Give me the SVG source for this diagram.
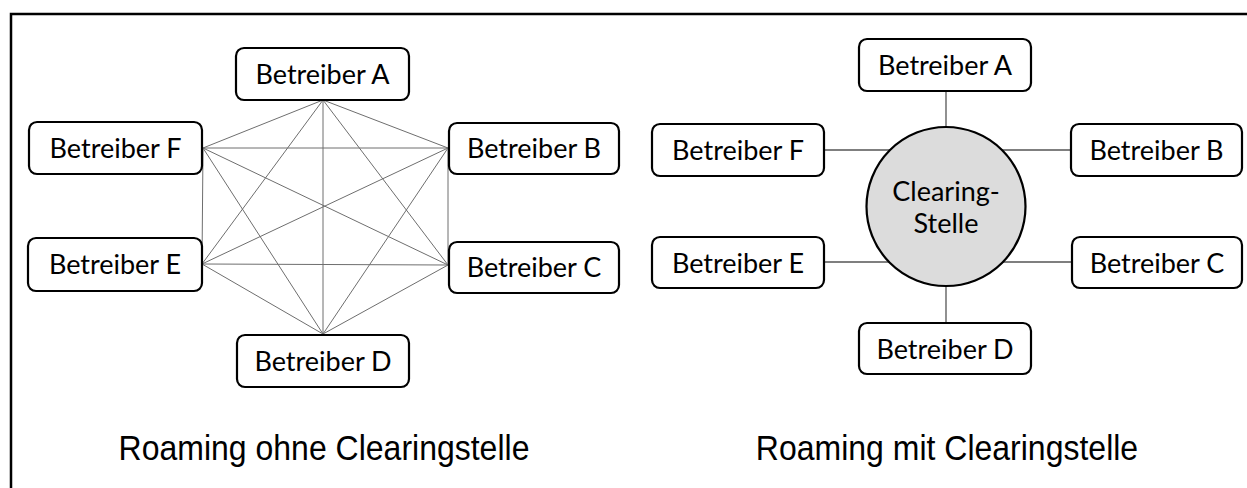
<svg xmlns="http://www.w3.org/2000/svg" width="1247" height="488" viewBox="0 0 1247 488">
<style>
.box{fill:#fff;stroke:#000;stroke-width:2.2}
.lbl{font-family:Lato,"Open Sans","Liberation Sans",sans-serif;font-size:27px;fill:#000;text-anchor:middle}
.cap{font-family:"Liberation Sans",Arial,sans-serif;font-size:32px;fill:#000;text-anchor:middle}
.mesh line{stroke:#6e6e6e;stroke-width:1}
.star line{stroke:#555;stroke-width:1.3}
</style>
<rect width="1247" height="488" fill="#fff"/>
<path d="M11,490 V14 H1250" fill="none" stroke="#000" stroke-width="2.5"/>
<g id="connectors">
<g class="mesh">
<line x1="323" y1="100" x2="448" y2="148"/>
<line x1="323" y1="100" x2="448" y2="265"/>
<line x1="323" y1="100" x2="323" y2="334"/>
<line x1="323" y1="100" x2="202" y2="264"/>
<line x1="323" y1="100" x2="203" y2="148"/>
<line x1="448" y1="148" x2="448" y2="265"/>
<line x1="448" y1="148" x2="323" y2="334"/>
<line x1="448" y1="148" x2="202" y2="264"/>
<line x1="448" y1="148" x2="203" y2="148"/>
<line x1="448" y1="265" x2="323" y2="334"/>
<line x1="448" y1="265" x2="202" y2="264"/>
<line x1="448" y1="265" x2="203" y2="148"/>
<line x1="323" y1="334" x2="202" y2="264"/>
<line x1="323" y1="334" x2="203" y2="148"/>
<line x1="202" y1="264" x2="203" y2="148"/>
</g>
<g class="star">
<line x1="946" y1="91" x2="946" y2="206"/>
<line x1="946" y1="206" x2="946" y2="323"/>
<line x1="824" y1="150" x2="946" y2="150"/>
<line x1="946" y1="150" x2="1071" y2="150"/>
<line x1="824" y1="262" x2="946" y2="262"/>
<line x1="946" y1="262" x2="1072" y2="262"/>
</g>
</g>
<g id="L-A"><rect class="box" x="236" y="48" width="173" height="52" rx="8"/><text class="lbl" x="322.5" y="84">Betreiber A</text></g>
<g id="L-B"><rect class="box" x="449" y="123" width="170" height="51" rx="8"/><text class="lbl" x="534" y="158">Betreiber B</text></g>
<g id="L-C"><rect class="box" x="449" y="242" width="170" height="51" rx="8"/><text class="lbl" x="534" y="277">Betreiber C</text></g>
<g id="L-D"><rect class="box" x="237" y="335" width="172" height="52" rx="8"/><text class="lbl" x="323" y="371">Betreiber D</text></g>
<g id="L-E"><rect class="box" x="28" y="238" width="174" height="53" rx="8"/><text class="lbl" x="115" y="274">Betreiber E</text></g>
<g id="L-F"><rect class="box" x="29" y="122" width="173" height="52" rx="8"/><text class="lbl" x="115.5" y="158">Betreiber F</text></g>
<g id="R-clearing"><circle cx="946" cy="206.5" r="79.5" fill="#dcdcdc" stroke="#000" stroke-width="2.2"/><text class="lbl" x="946" y="201">Clearing-</text><text class="lbl" x="946" y="233">Stelle</text></g>
<g id="R-A"><rect class="box" x="859" y="39" width="172" height="52" rx="8"/><text class="lbl" x="945" y="75">Betreiber A</text></g>
<g id="R-B"><rect class="box" x="1071" y="124" width="171" height="52" rx="8"/><text class="lbl" x="1156.5" y="160">Betreiber B</text></g>
<g id="R-C"><rect class="box" x="1072" y="237" width="170" height="51" rx="8"/><text class="lbl" x="1157" y="273">Betreiber C</text></g>
<g id="R-D"><rect class="box" x="859" y="323" width="172" height="51" rx="8"/><text class="lbl" x="945" y="359">Betreiber D</text></g>
<g id="R-E"><rect class="box" x="652" y="237" width="172" height="51" rx="8"/><text class="lbl" x="738" y="273">Betreiber E</text></g>
<g id="R-F"><rect class="box" x="652" y="124" width="172" height="52" rx="8"/><text class="lbl" x="738" y="160">Betreiber F</text></g>
<g id="captions">
<text class="cap" transform="translate(324 460) scale(1 1.12)">Roaming ohne Clearingstelle</text>
<text class="cap" transform="translate(947 460) scale(1 1.12)">Roaming mit Clearingstelle</text>
</g>
</svg>
